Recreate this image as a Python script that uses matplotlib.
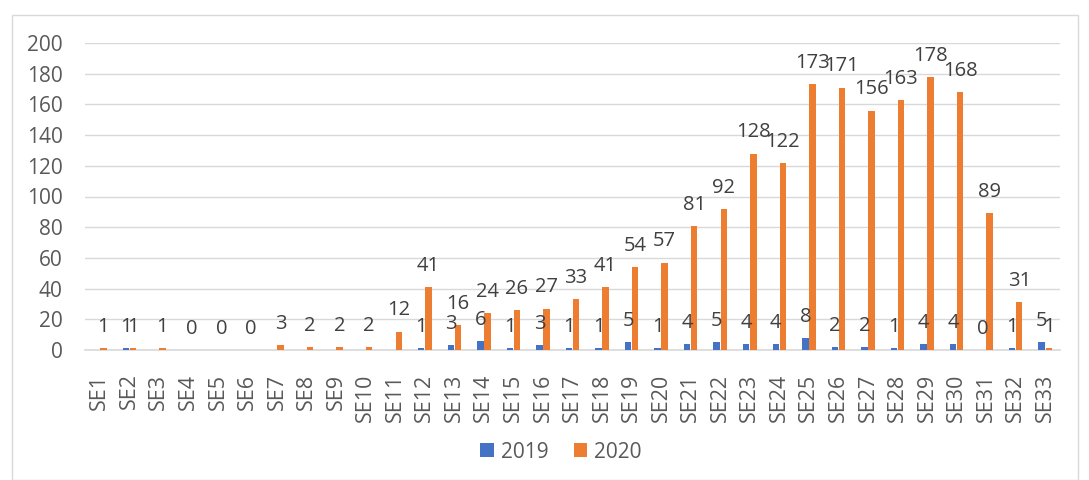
import matplotlib
matplotlib.use("Agg")
import matplotlib.pyplot as plt
import numpy as np
from matplotlib.patches import Rectangle

categories = [f"SE{i}" for i in range(1, 34)]
values_2019 = [None, 1, None, None, None, None, None, None, None, None, None,
               1, 3, 6, 1, 3, 1, 1, 5, 1, 4, 5, 4, 4, 8, 2, 2, 1, 4, 4, 0, 1, 5]
values_2020 = [1, 1, 1, 0, 0, 0, 3, 2, 2, 2, 12, 41, 16, 24, 26, 27, 33, 41, 54, 57,
               81, 92, 128, 122, 173, 171, 156, 163, 178, 168, 89, 31, 1]
series_names = ["2019", "2020"]
yticks = [0, 20, 40, 60, 80, 100, 120, 140, 160, 180, 200]

plt.rcParams['font.family'] = ['Open Sans', 'DejaVu Sans']

fig = plt.figure(figsize=(10.89, 4.80), dpi=100)
fig.patches.append(Rectangle((12/1089, 0.0), 1066/1089, 1 - 15/480, transform=fig.transFigure,
                             fill=False, edgecolor='#d9d9d9', linewidth=1.0))
ax = fig.add_axes([85/1089, 1 - 350/480, 975/1089, 307/480])

x = np.arange(len(categories))
w = 0.22
off = 0.12
blue = '#4472c4'
orange = '#ed7d31'
txt = '#404040'

v19 = np.array([np.nan if v is None else v for v in values_2019], dtype=float)
v20 = np.array(values_2020, dtype=float)
ax.bar(x - off, np.nan_to_num(v19), width=w, color=blue, label=series_names[0], zorder=3)
ax.bar(x + off, v20, width=w, color=orange, label=series_names[1], zorder=3)

for xi, v in zip(x, values_2019):
    if v is not None:
        ax.annotate(str(v), (xi - off, v), xytext=(0, 8), textcoords='offset points',
                    ha='center', va='bottom', fontsize=14.5, color=txt, zorder=4)
for xi, v in zip(x, values_2020):
    ax.annotate(str(v), (xi + off, v), xytext=(0, 8), textcoords='offset points',
                ha='center', va='bottom', fontsize=14.5, color=txt, zorder=4)

ax.set_xlim(-0.5, len(categories) - 0.5)
ax.set_ylim(0, 200)
ax.set_yticks(yticks)
ax.set_xticks(x)
ax.set_xticklabels(categories, rotation=90, fontsize=15.5, color='#595959')
ax.tick_params(axis='y', labelsize=15, colors='#595959', length=0, pad=16)
ax.tick_params(axis='x', length=0, pad=17)
ax.grid(axis='y', color='#d9d9d9', linewidth=1, zorder=0)
for s in ['top', 'right', 'left']:
    ax.spines[s].set_visible(False)
ax.spines['bottom'].set_color('#d9d9d9')
ax.spines['bottom'].set_linewidth(1.2)

fig.legend(loc='center', bbox_to_anchor=(561/1089, 1 - 452/480), ncol=2, frameon=False,
           fontsize=15, handlelength=0.65, handleheight=0.65, columnspacing=1.2,
           handletextpad=0.35, labelcolor='#595959')

fig.savefig('out.png', dpi=100)
